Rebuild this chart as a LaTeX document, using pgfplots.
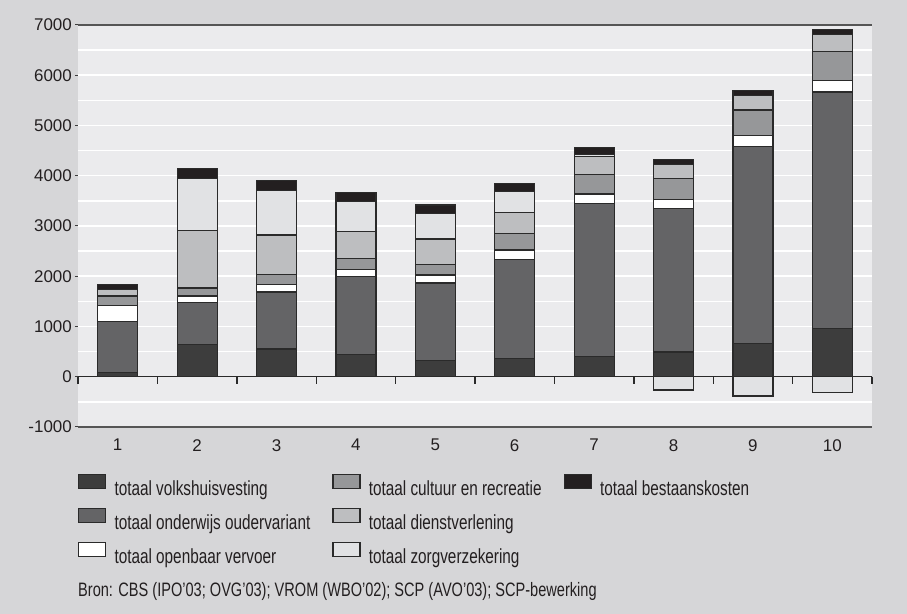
\documentclass[border=0pt]{standalone}
\usepackage{fontspec}
\setmainfont{Liberation Sans}
\newfontfamily\condfont{Liberation Sans}[FakeStretch=0.75]
\usepackage{pgfplots}
\usepackage{pgfplotstable}
\pgfplotsset{compat=1.18}

\definecolor{outerbg}{RGB}{214,214,216}
\definecolor{plotbg}{RGB}{235,235,237}
\definecolor{barline}{RGB}{42,42,42}
\definecolor{tickc}{RGB}{60,60,60}
\definecolor{framec}{RGB}{85,85,85}
\definecolor{labelc}{RGB}{35,31,32}
\definecolor{cVolks}{RGB}{61,61,61}
\definecolor{cOnderwijs}{RGB}{100,100,102}
\definecolor{cOV}{RGB}{255,255,255}
\definecolor{cCultuur}{RGB}{150,151,153}
\definecolor{cDienst}{RGB}{189,190,192}
\definecolor{cZorg}{RGB}{225,226,228}
\definecolor{cBestaan}{RGB}{35,31,32}

% Components per group (positive part of the stack)
\pgfplotstableread{
x volks onderwijs ov cultuur dienst zorg bestaans
1   92  1001 329 184  132    0  92
2  646   836 125 159 1139 1035 204
3  553  1134 144 198  791  889 198
4  435  1561 145 211  540  593 178
5  323  1541 159 217  501  513 165
6  356  1983 184 323  415  422 164
7  408  3037 192 395  349   46 132
8  494  2853 178 428  276    0  99
9  654  3923 218 515  284    0  99
10 964  4703 231 575  337    0  99
}\datatable

\pgfplotsset{
  panel/.style={
    width=794bp, height=402bp, scale only axis,
    xmin=0.5, xmax=10.5, ymin=-1000, ymax=7000,
    at={(78bp,187bp)}, anchor=south west, clip=false,
  },
  barsty/.style={draw=barline, line width=1.2bp},
  swatch/.style={
    legend image code/.code={\draw[##1,draw=barline,line width=1.2bp] (0bp,2bp) rectangle (27bp,16bp);},
    fill=#1},
}
\tikzset{zeroline/.style={draw=barline, line width=1.4bp}}

\begin{document}
\begin{tikzpicture}
\fill[outerbg] (0,0) rectangle (907bp,614bp);

\begin{axis}[
  panel,
  ybar stacked, bar width=40bp,
  axis background/.style={fill=plotbg},
  axis line style={draw=none},
  xtick={1,2,3,4,5,6,7,8,9,10},
  xticklabels={1,2,3,4,5,6,7,8,9,10},
  ytick={-1000,0,1000,2000,3000,4000,5000,6000,7000},
  yticklabels={-1000,0,1000,2000,3000,4000,5000,6000,7000},
  minor ytick={-500,500,1500,2500,3500,4500,5500,6500},
  ymajorgrids, yminorgrids,
  major grid style={draw=white, line width=1.5bp},
  minor grid style={draw=white, line width=1.5bp},
  xtick style={draw=none},
  ytick style={draw=tickc, line width=1bp},
  major tick length=3bp, minor tick length=0pt,
  tick align=outside,
  ytick pos=left, xtick pos=bottom,
  tick label style={font=\fontsize{17}{20}\selectfont, text=labelc},
  xticklabel style={inner sep=0pt, yshift=-9bp},
  yticklabel style={inner sep=0pt, xshift=-3bp},
  legend columns=3,
  legend cell align=left,
  legend style={draw=none, fill=none, at={(0,-0.117)}, anchor=north west,
    inner sep=0pt, outer sep=0pt, row sep=7.5bp,
    font=\condfont\fontsize{20.5}{24}\selectfont, text=labelc,
    nodes={inner sep=0pt, text height=15bp, text depth=4.5bp},
    /tikz/every odd column/.append style={column sep=8.3bp},
    /tikz/every even column/.append style={column sep=22bp}},
]
% legend, filled column by column
\addlegendimage{swatch=cVolks}\addlegendentry{totaal volkshuisvesting}
\addlegendimage{swatch=cCultuur}\addlegendentry{totaal cultuur en recreatie}
\addlegendimage{swatch=cBestaan}\addlegendentry{totaal bestaanskosten}
\addlegendimage{swatch=cOnderwijs}\addlegendentry{totaal onderwijs oudervariant}
\addlegendimage{swatch=cDienst}\addlegendentry{totaal dienstverlening}
\addlegendimage{empty legend}\addlegendentry{}
\addlegendimage{swatch=cOV}\addlegendentry{totaal openbaar vervoer}
\addlegendimage{swatch=cZorg}\addlegendentry{totaal zorgverzekering}

\addplot[barsty, fill=cVolks]     table[x=x, y=volks]{\datatable};
\addplot[barsty, fill=cOnderwijs] table[x=x, y=onderwijs]{\datatable};
\addplot[barsty, fill=cOV]        table[x=x, y=ov]{\datatable};
\addplot[barsty, fill=cCultuur]   table[x=x, y=cultuur]{\datatable};
\addplot[barsty, fill=cDienst]    table[x=x, y=dienst]{\datatable};
\addplot[barsty, fill=cZorg]      table[x=x, y=zorg]{\datatable};
\addplot[barsty, fill=cBestaan]   table[x=x, y=bestaans]{\datatable};

% top and bottom frame lines
\draw[framec, line width=1.2bp] (rel axis cs:0,1) -- (rel axis cs:1,1);
\draw[framec, line width=2bp] (rel axis cs:0,0) -- (rel axis cs:1,0);
\end{axis}

% negative contributions (zorgverzekering) hang below the zero line
\begin{axis}[panel, hide axis, ybar, bar width=40bp]
\addplot[barsty, fill=cZorg] coordinates {(8,-264) (9,-383) (10,-317)};
\draw[zeroline] (axis cs:0.5,0) -- (axis cs:10.5,0);
\pgfplotsinvokeforeach{0.5,1.5,2.5,3.5,4.5,5.5,6.5,7.5,8.5,9.5,10.5}{
  \draw[zeroline] (axis cs:#1,0) -- (axis cs:#1,-140);
}
\end{axis}

\node[anchor=base west, inner sep=0pt, text=labelc,
  font=\condfont\fontsize{19.5}{22}\selectfont] at (78bp,18bp)
  {Bron: CBS (IPO’03; OVG’03); VROM (WBO’02); SCP (AVO’03); SCP-bewerking};
\end{tikzpicture}
\end{document}
